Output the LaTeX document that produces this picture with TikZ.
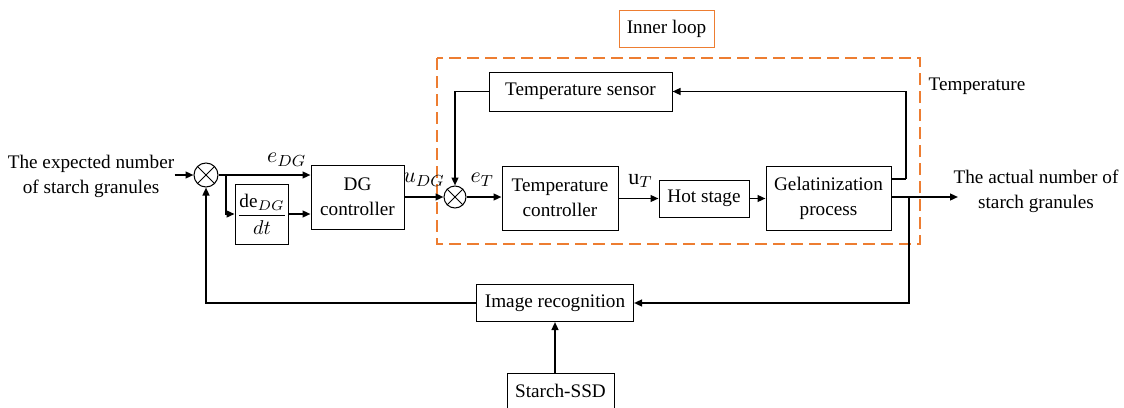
\documentclass[tikz,border=0pt]{standalone}
\usepackage{fontspec}
\setmainfont{Liberation Serif}[Ligatures=TeX]
\usetikzlibrary{positioning,arrows.meta,calc}
\definecolor{loopO}{HTML}{ED7D31}
\newcommand{\blkfont}{\rmfamily\fontsize{9.6}{12.5}\selectfont}
\tikzset{
  blk/.style={draw=black, line width=0.5pt, align=center, inner sep=1.5pt, font=\blkfont},
  sumj/.style={circle, draw=black, line width=0.5pt, minimum size=12pt, inner sep=0pt},
  sig/.style={-{Triangle[length=4pt,width=3.4pt]}, line width=0.9pt},
  wire/.style={line width=0.9pt},
  lbl/.style={font=\blkfont, align=center, inner sep=0pt},
  mlbl/.style={font=\fontsize{11}{12}\selectfont, inner sep=0pt},
  inner/.style={draw=loopO, line width=0.9pt, dash pattern=on 6pt off 3pt},
}

\begin{document}
\begin{tikzpicture}[x=0.5pt, y=-0.5pt]
  \useasboundingbox (0,0) rectangle (1124,407);

  % ------------------------------------------------ outer loop blocks
  \node[lbl] (in) at (91,176) {The expected number\\ of starch granules};
  \node[sumj] (s1) at (206,175) {};
  \node[blk, minimum width=26pt, minimum height=30pt, inner sep=1pt] (dgd) at (262,214)
    {$\displaystyle\frac{\mathrm{de}_{DG}}{dt}$};
  \node[blk, minimum width=46.5pt, minimum height=32pt] (dg) at (357.5,197) {DG\\ controller};

  % ------------------------------------------------ inner loop blocks
  \node[sumj, minimum size=11pt] (s2) at (455,197) {};
  \node[blk, minimum width=58pt, minimum height=32pt] (tc) at (560,198) {Temperature\\ controller};
  \node[blk, minimum width=45pt, minimum height=18.5pt] (hs) at (704,198.5) {Hot stage};
  \node[blk, minimum width=62.5pt, minimum height=32pt] (gel) at (828.5,198) {Gelatinization\\ process};
  \node[blk, minimum width=91.5pt, minimum height=19.5pt] (ts) at (580.5,91.5) {Temperature sensor};

  \draw[inner] (437,58) rectangle (920,244);
  \node[blk, draw=loopO, minimum width=47.5pt, minimum height=18.5pt] (il)
    at (666.5,28.5) {Inner loop};
  \node[lbl] (tlab) at (977,86) {Temperature};

  % ------------------------------------------------ feedback blocks
  \node[blk, minimum width=78.5pt, minimum height=18.5pt] (ir) at (555,303) {Image recognition};
  \node[blk, minimum width=53.5pt, minimum height=18pt] (ssd) at (560.5,391) {Starch-SSD};

  \foreach \s in {s1,s2} {
    \draw[line width=0.5pt] (\s.45) -- (\s.225) (\s.135) -- (\s.315);
  }

  % ------------------------------------------------ signals
  \coordinate (br) at (226,175);
  \coordinate (tapT) at (906,179);
  \coordinate (tapO) at (909,197);
  \coordinate (out) at (958,197);

  \draw[sig] (in.east |- s1) -- (s1.west);
  \draw[sig] (s1.east) -- (dg.west |- s1)
    node[mlbl, pos=0.74, above=4pt] {$e_{DG}$};
  \draw[sig] (br) |- (dgd.west);
  \draw[sig] (dgd.east) -- (dgd.east -| dg.west);
  \draw[sig] (dg.east) -- (s2.west)
    node[mlbl, midway, above=5pt] {$u_{DG}$};
  \draw[sig] (s2.east) -- (tc.west |- s2)
    node[mlbl, pos=0.45, above=5pt] {$e_T$};
  \draw[sig] (tc.east |- hs) -- (hs.west)
    node[mlbl, pos=0.55, above=5pt] {$\mathrm{u}_T$};
  \draw[sig] (hs.east) -- (gel.west |- hs);

  % temperature feedback
  \draw[wire] (gel.east |- tapT) -- (tapT);
  \draw[sig] (tapT) |- (ts.east);
  \draw[sig] (ts.west) -| (s2.north);

  % output and image feedback
  \draw[sig] (gel.east |- out) -- (out);
  \node[lbl] (outl) at (1036,191) {The actual number of\\ starch granules};
  \draw[sig] (tapO) |- (ir.east);
  \draw[sig] (ir.west) -| (s1.south);
  \draw[sig] (ir.south |- ssd.north) -- (ir.south);
\end{tikzpicture}
\end{document}
